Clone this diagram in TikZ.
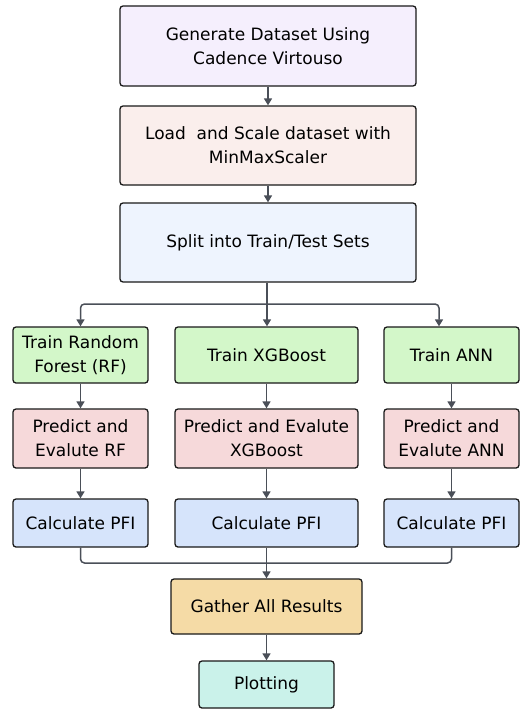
\documentclass[tikz,border=0pt]{standalone}
\usepackage{fontspec}
\setmainfont{DejaVu Sans}
\usetikzlibrary{positioning, arrows.meta}
\definecolor{edgegray}{HTML}{4A4F58}
\definecolor{genfill}{HTML}{F5EFFD}
\definecolor{loadfill}{HTML}{FAEEEC}
\definecolor{splitfill}{HTML}{EEF4FE}
\definecolor{trainfill}{HTML}{D3F7C9}
\definecolor{predfill}{HTML}{F6D9DA}
\definecolor{pfifill}{HTML}{D6E4FB}
\definecolor{gatherfill}{HTML}{F5DBA6}
\definecolor{plotfill}{HTML}{CAF2EA}
\tikzset{
  block/.style={rectangle, draw=black!90, line width=1.3pt, rounded corners=3pt, align=center, inner sep=2pt},
  arrow/.style={-{Triangle[length=7pt, width=8pt]}, line width=1.5pt, draw=edgegray},
  link/.style={line width=1.5pt, draw=edgegray, rounded corners=4pt},
}
\begin{document}
\begin{tikzpicture}[x=1pt, y=-1pt, font=\fontsize{17}{24}\selectfont]
  \useasboundingbox (0,0) rectangle (531,709);

  \node[block, fill=genfill, minimum width=296pt, minimum height=80pt] (gen) at (268,46) {Generate Dataset Using\\Cadence Virtouso};
  \node[block, fill=loadfill, minimum width=296pt, minimum height=79pt] (load) at (268,145.5) {Load~ and Scale dataset with\\MinMaxScaler};
  \node[block, fill=splitfill, minimum width=296pt, minimum height=79pt] (split) at (268,242.5) {Split into Train/Test Sets};

  \node[block, fill=trainfill, minimum width=135pt, minimum height=56pt] (trainRF) at (80.5,355) {Train Random\\Forest (RF)};
  \node[block, fill=trainfill, minimum width=183pt, minimum height=56pt] (trainXGB) at (266.5,355) {Train XGBoost};
  \node[block, fill=trainfill, minimum width=135pt, minimum height=56pt] (trainANN) at (451.5,355) {Train ANN};

  \node[block, fill=predfill, minimum width=135pt, minimum height=59pt] (predRF) at (80.5,438.5) {Predict and\\Evalute RF};
  \node[block, fill=predfill, minimum width=183pt, minimum height=59pt] (predXGB) at (266.5,438.5) {Predict and Evalute\\XGBoost};
  \node[block, fill=predfill, minimum width=135pt, minimum height=59pt] (predANN) at (451.5,438.5) {Predict and\\Evalute ANN};

  \node[block, fill=pfifill, minimum width=135pt, minimum height=48pt] (pfiRF) at (80.5,523) {Calculate PFI};
  \node[block, fill=pfifill, minimum width=183pt, minimum height=48pt] (pfiXGB) at (266.5,523) {Calculate PFI};
  \node[block, fill=pfifill, minimum width=135pt, minimum height=48pt] (pfiANN) at (451.5,523) {Calculate PFI};

  \node[block, fill=gatherfill, minimum width=191pt, minimum height=55pt] (gather) at (266.5,606.5) {Gather All Results};
  \node[block, fill=plotfill, minimum width=135pt, minimum height=47pt] (plot) at (266.5,684.5) {Plotting};

  % fork and merge points
  \coordinate (fork) at (267,304);
  \coordinate (forkR) at (439,304);
  \coordinate (merge) at (266.5,563);

  \draw[arrow] (gen) -- (load);
  \draw[arrow] (load) -- (split);

  \draw[link] (split.south -| fork) -- (fork);
  \draw[arrow, rounded corners=4pt] (fork) -| (trainRF.north);
  \draw[arrow] (fork) -- (fork |- trainXGB.north);
  \draw[arrow, rounded corners=4pt] (fork) -| (forkR |- trainANN.north);

  \draw[arrow] (trainRF) -- (predRF);
  \draw[arrow] (trainXGB) -- (predXGB);
  \draw[arrow] (trainANN) -- (predANN);
  \draw[arrow] (predRF) -- (pfiRF);
  \draw[arrow] (predXGB) -- (pfiXGB);
  \draw[arrow] (predANN) -- (pfiANN);

  \draw[link] (pfiRF.south) |- (merge);
  \draw[link] (pfiANN.south) |- (merge);
  \draw[arrow] (pfiXGB) -- (gather);
  \draw[arrow] (gather) -- (plot);
\end{tikzpicture}
\end{document}
